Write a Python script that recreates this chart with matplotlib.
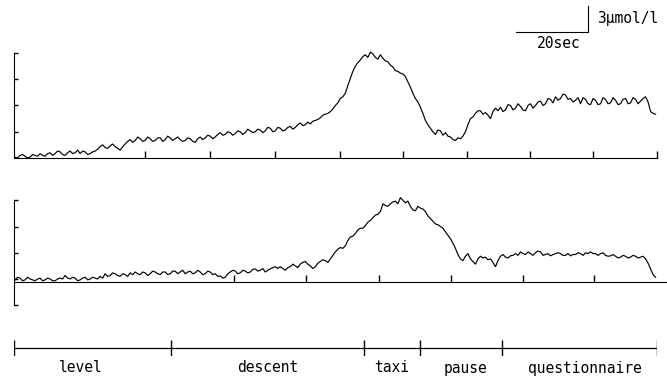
import numpy as np
import matplotlib
matplotlib.use("Agg")
import matplotlib.pyplot as plt

# trace samples, one every dt seconds (values in umol/l above baseline)
dt = 0.695
t0 = 0.3
upper_trace = [
    0.1, 0.0, 0.3, 0.4, 0.2, 0.0, 0.1, 0.4, 0.3, 0.2, 0.5, 0.3, 0.2, 0.5, 0.6, 0.3, 0.5, 0.8, 0.7, 0.4,
    0.3, 0.6, 0.8, 0.5, 0.6, 0.9, 0.5, 0.8, 0.7, 0.4, 0.5, 0.7, 0.8, 1.0, 1.3, 1.5, 1.2, 1.1, 1.4, 1.6,
    1.3, 1.1, 0.9, 1.3, 1.6, 1.9, 2.1, 1.8, 2.0, 2.4, 2.2, 1.9, 2.0, 2.4, 2.2, 1.9, 2.0, 2.3, 2.3, 1.9,
    2.1, 2.5, 2.3, 2.0, 2.2, 2.4, 2.1, 1.9, 2.0, 2.3, 2.2, 1.9, 1.8, 2.2, 2.4, 2.1, 2.3, 2.6, 2.5, 2.2,
    2.4, 2.7, 2.9, 2.6, 2.7, 3.0, 2.9, 2.6, 2.8, 3.1, 3.0, 2.7, 2.9, 3.3, 3.1, 2.9, 3.0, 3.3, 3.2, 2.9,
    3.1, 3.5, 3.4, 3.0, 3.1, 3.5, 3.4, 3.1, 3.2, 3.5, 3.6, 3.3, 3.5, 3.8, 4.0, 3.7, 3.8, 4.1, 3.9, 4.2,
    4.3, 4.4, 4.6, 4.9, 5.0, 5.1, 5.3, 5.6, 6.0, 6.3, 6.8, 7.0, 7.4, 8.3, 9.1, 9.9, 10.5, 10.9, 11.2, 11.6,
    11.8, 11.5, 12.1, 11.9, 11.5, 11.3, 11.8, 11.4, 11.1, 11.0, 10.6, 10.4, 10.0, 9.9, 9.7, 9.6, 9.3, 8.7, 8.1, 7.4,
    6.8, 6.4, 5.8, 5.1, 4.3, 3.8, 3.4, 3.0, 2.7, 3.2, 3.1, 2.6, 2.9, 2.5, 2.4, 2.1, 2.0, 2.3, 2.2, 2.5,
    3.0, 3.8, 4.5, 4.7, 5.1, 5.4, 5.4, 5.0, 5.2, 4.9, 4.5, 5.3, 5.7, 5.4, 5.8, 5.3, 5.5, 6.1, 6.0, 5.5,
    5.7, 6.2, 5.9, 5.5, 5.4, 6.0, 6.2, 5.7, 6.0, 6.4, 6.5, 6.0, 6.2, 6.8, 6.7, 6.3, 7.0, 6.6, 6.8, 7.3,
    7.2, 6.7, 6.8, 6.4, 6.6, 6.9, 6.2, 6.9, 6.7, 6.2, 6.1, 6.8, 6.6, 6.1, 6.2, 6.9, 6.7, 6.2, 6.3, 6.9,
    6.6, 6.1, 6.2, 6.7, 6.8, 6.2, 6.3, 6.9, 6.7, 6.2, 6.5, 6.8, 7.0, 6.4, 5.3, 5.1, 5.0,
]
lower_trace = [
    -0.1, 0.2, 0.1, -0.2, -0.1, 0.2, 0.0, -0.1, -0.2, 0.0, 0.1, -0.2, -0.1, 0.1, 0.0, -0.2, -0.2, 0.0, 0.1, 0.0,
    0.4, 0.1, 0.0, 0.2, 0.1, -0.2, -0.1, 0.1, 0.2, -0.1, 0.0, 0.2, 0.1, 0.0, 0.3, 0.1, 0.6, 0.3, 0.4, 0.7,
    0.6, 0.4, 0.3, 0.6, 0.5, 0.3, 0.7, 0.5, 0.8, 0.6, 0.5, 0.8, 0.7, 0.4, 0.6, 0.9, 0.8, 0.6, 0.5, 0.8,
    0.8, 0.5, 0.6, 0.9, 0.9, 0.6, 0.8, 1.0, 0.6, 0.8, 0.9, 0.6, 0.7, 1.0, 0.8, 0.5, 0.6, 0.9, 0.8, 0.5,
    0.6, 0.3, 0.35, 0.1, 0.2, 0.6, 0.8, 1.0, 0.9, 0.6, 0.7, 1.0, 0.9, 0.7, 0.8, 1.1, 1.15, 0.9, 1.0, 1.2,
    0.8, 1.0, 1.15, 1.3, 1.4, 1.2, 1.4, 1.2, 1.0, 1.3, 1.4, 1.7, 1.5, 1.3, 1.7, 1.9, 2.0, 1.7, 1.5, 1.2,
    1.4, 1.8, 2.0, 2.2, 2.1, 1.9, 2.3, 2.7, 3.1, 3.4, 3.6, 3.5, 3.8, 4.4, 4.8, 4.9, 5.2, 5.6, 5.8, 5.8,
    6.1, 6.5, 6.7, 7.0, 7.3, 7.4, 7.7, 8.6, 8.4, 8.3, 8.6, 8.8, 8.9, 8.6, 9.3, 9.0, 8.7, 8.9, 8.3, 7.9,
    7.8, 8.3, 8.1, 8.0, 7.7, 7.2, 6.9, 6.6, 6.3, 6.2, 6.0, 5.8, 5.4, 5.0, 4.6, 4.1, 3.5, 2.8, 2.3, 2.1,
    2.6, 2.9, 2.3, 2.0, 1.7, 2.3, 2.6, 2.4, 2.5, 2.2, 2.3, 1.9, 1.4, 2.1, 2.6, 2.8, 2.5, 2.4, 2.65, 2.7,
    2.9, 2.7, 3.1, 2.9, 2.8, 3.1, 2.9, 2.7, 3.0, 3.2, 3.1, 2.7, 2.8, 2.9, 2.65, 2.8, 2.9, 3.0, 2.9, 2.7,
    2.7, 2.9, 2.65, 2.8, 2.8, 3.0, 2.9, 2.7, 3.0, 2.9, 3.1, 2.9, 2.9, 2.7, 2.9, 3.0, 2.7, 2.6, 2.65, 2.8,
    2.6, 2.4, 2.5, 2.7, 2.6, 2.4, 2.5, 2.7, 2.6, 2.4, 2.5, 2.6, 2.3, 1.8, 1.15, 0.5, 0.2,
]
upper_xticks = [36.4, 54.4, 72.5, 90.6, 108.1, 125.8, 143.3, 160.8, 178.6]
lower_xticks = [61.0, 81.2, 101.5, 121.4, 141.4, 161.1]
upper_yticks = [3, 6, 9, 12]
lower_yticks = [-3, 0, 3, 6, 9]

phase_edges = [0, 43.6, 97.2, 112.8, 135.6, 178.6]
phase_names = ["level", "descent", "taxi", "pause", "questionnaire"]
phase_label_t = [18.5, 70.5, 105.0, 125.5, 158.5]

t_end = 178.6
W, H = 667, 379
px_sec = 3.6      # pixels per second
px_unit = 8.75    # pixels per umol/l
x_origin = 14     # pixel column of t = 0
mono = "DejaVu Sans Mono"


def panel(fig, y_zero, ylo, yhi):
    """axes whose data origin sits at pixel row y_zero"""
    top = y_zero - yhi * px_unit
    bottom = y_zero - ylo * px_unit
    ax = fig.add_axes([x_origin / W, 1 - bottom / H, t_end * px_sec / W, (bottom - top) / H])
    ax.set_xlim(0, t_end)
    ax.set_ylim(ylo, yhi)
    ax.patch.set_visible(False)
    for side in ("top", "right"):
        ax.spines[side].set_visible(False)
    ax.tick_params(direction="in", labelbottom=False, labelleft=False, width=1)
    ax.tick_params(axis="x", length=5)
    ax.tick_params(axis="y", length=3)
    return ax


fig = plt.figure(figsize=(W / 100, H / 100), dpi=100)
times = t0 + dt * np.arange(len(upper_trace))

# upper trace
ax1 = panel(fig, 158, -0.5, 12.5)
ax1.plot(times, upper_trace, color="black", lw=0.85)
ax1.spines["bottom"].set_position(("data", 0))
ax1.spines["bottom"].set_bounds(0, t_end)
ax1.spines["left"].set_bounds(0, 12)
ax1.set_xticks(upper_xticks)
ax1.set_yticks(upper_yticks)

# scale bar: 20 s horizontally, 3 umol/l vertically
bar_t, bar_y = 139.4, 14.4
ax1.plot([bar_t, bar_t + 20, bar_t + 20], [bar_y, bar_y, bar_y + 3],
         color="black", lw=0.8, clip_on=False)
ax1.text(bar_t + 22.5, bar_y + 1.6, "3\u00b5mol/l", family=mono, fontsize=10.5,
         va="center", ha="left")
ax1.text(bar_t + 12, bar_y - 1.35, "20sec", family=mono, fontsize=10.5,
         va="center", ha="center")

# lower trace
ax2 = panel(fig, 279, -3.5, 10)
ax2.plot(times, lower_trace, color="black", lw=0.85)
ax2.spines["bottom"].set_position(("data", -0.35))
ax2.spines["bottom"].set_bounds(0, 181)
ax2.spines["left"].set_bounds(-3, 9)
ax2.set_xticks(lower_xticks)
ax2.set_yticks(lower_yticks)

# phase time line
ax3 = fig.add_axes([x_origin / W, 1 - 356 / H, t_end * px_sec / W, 16 / H])
ax3.set_xlim(0, t_end)
ax3.set_ylim(-1, 1)
ax3.axis("off")
ax3.hlines(0, phase_edges[0], phase_edges[-1], color="black", lw=0.9)
ax3.vlines(phase_edges, -1, 1, color="black", lw=1.0)
for name, tc in zip(phase_names, phase_label_t):
    ax3.text(tc, -2.5, name, family=mono, fontsize=10.5, ha="center", va="center",
             clip_on=False)

fig.savefig("out.png", dpi=100)
